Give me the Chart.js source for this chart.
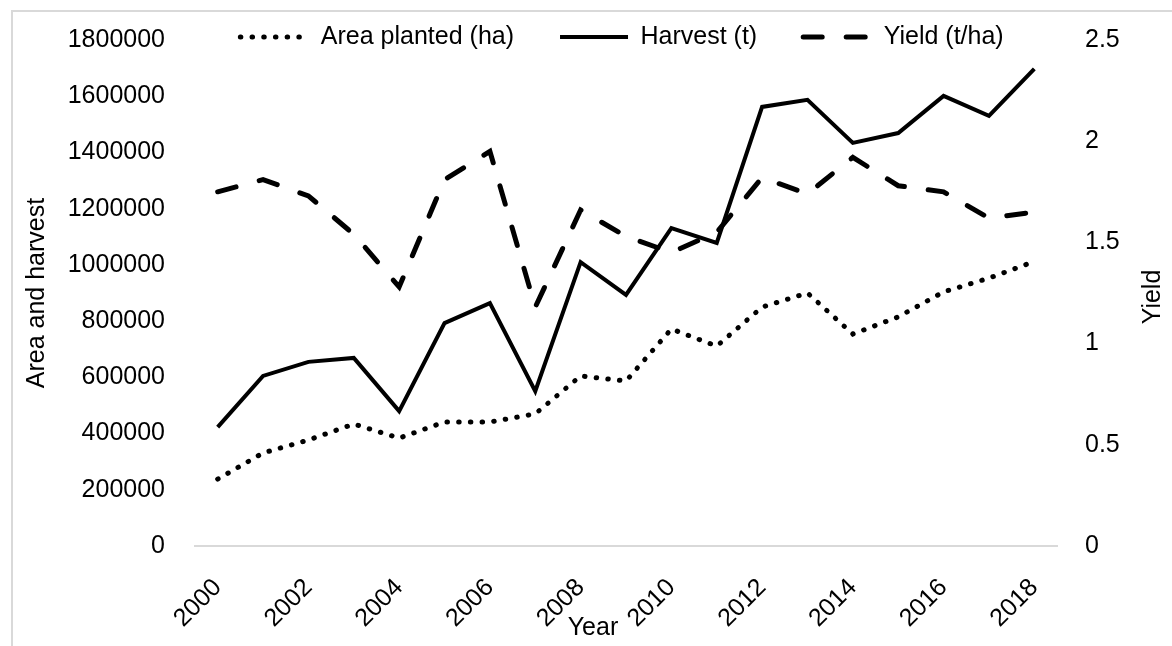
<!DOCTYPE html>
<html>
<head>
<meta charset="utf-8">
<script src="https://cdn.jsdelivr.net/npm/chart.js@4"></script>
<style>
  html, body { margin: 0; padding: 0; background: #fff; }
  #wrap { position: relative; width: 1172px; height: 646px; }
</style>
</head>
<body>
<div id="wrap"><canvas id="chart1"></canvas></div>
<script>
const years = ["2000", "2001", "2002", "2003", "2004", "2005", "2006", "2007", "2008", "2009",
  "2010", "2011", "2012", "2013", "2014", "2015", "2016", "2017", "2018"];

const areaPlanted = [238000, 331000, 377000, 434000, 384000, 441000, 441000, 470000, 605000, 587000,
  772000, 711000, 850000, 900000, 754000, 815000, 904000, 953000, 1012000];

const harvest = [423000, 605000, 655000, 669000, 480000, 793000, 864000, 551000, 1010000, 893000,
  1131000, 1078000, 1562000, 1587000, 1434000, 1469000, 1601000, 1530000, 1697000];

const yieldRate = [1.75, 1.81, 1.73, 1.54, 1.28, 1.81, 1.95, 1.18, 1.66, 1.53,
  1.45, 1.55, 1.82, 1.74, 1.92, 1.78, 1.75, 1.62, 1.65];

const leftMax = 1800000;
const leftStep = 200000;
const rightMax = 2.5;
const rightStep = 0.5;

const fontName = "'Liberation Sans Narrow', 'Arial Narrow', 'Liberation Sans', Arial, sans-serif";
const textFont = { family: fontName, size: 25 };

// legend sits over the top of the plot, so its box is squeezed by hand
const framePlugin = {
  id: "frame",
  afterInit: function (chart) {
    const fit = chart.legend.fit;
    chart.legend.fit = function () {
      fit.call(this);
      this.height = 40;
    };
  },
  afterLayout: function (chart) {
    const lg = chart.legend;
    lg.top = 37 - 46 - 12.5;
    lg.bottom = 80;
    lg.left = 36;
    lg.right = 1208;
  },
  beforeDraw: function (chart) {
    const ctx = chart.ctx;
    ctx.save();
    ctx.strokeStyle = "#d9d9d9";
    ctx.lineWidth = 2;
    ctx.strokeRect(12, 11, 1200, 700);
    ctx.restore();
  },
  afterDraw: function (chart) {
    const ctx = chart.ctx;
    ctx.save();
    ctx.fillStyle = "#000";
    ctx.font = "25px " + fontName;
    ctx.textAlign = "center";
    ctx.textBaseline = "middle";
    ctx.fillText("Year", 593, 628);
    ctx.translate(1153, 297);
    ctx.rotate(-Math.PI / 2);
    ctx.fillText("Yield", 0, 0);
    ctx.restore();
  },
};

const legendLabels = function (chart) {
  const items = Chart.defaults.plugins.legend.labels.generateLabels(chart);
  items.forEach((item, i) => {
    const ds = chart.data.datasets[i];
    item.lineDash = ds.borderDash || [];
    item.lineCap = ds.borderCapStyle || "butt";
    item.lineWidth = ds.borderWidth;
  });
  return items;
};

const fixSide = function (width) {
  return function (scale) {
    scale.width = width;
    scale.paddingTop = 0;
    scale.paddingBottom = 0;
  };
};

const config = {
  type: "line",
  data: {
    labels: years,
    datasets: [
      {
        label: "Area planted (ha)",
        data: areaPlanted,
        yAxisID: "y",
        borderColor: "#000",
        backgroundColor: "#000",
        borderWidth: 5,
        borderDash: [0.5, 11.2],
        borderCapStyle: "round",
        pointRadius: 0,
        tension: 0,
      },
      {
        label: "Harvest (t)",
        data: harvest,
        yAxisID: "y",
        borderColor: "#000",
        backgroundColor: "#000",
        borderWidth: 4,
        pointRadius: 0,
        tension: 0,
      },
      {
        label: "Yield (t/ha)",
        data: yieldRate,
        yAxisID: "y1",
        borderColor: "#000",
        backgroundColor: "#000",
        borderWidth: 5,
        borderDash: [19, 24],
        borderCapStyle: "round",
        pointRadius: 0,
        tension: 0,
      },
    ],
  },
  options: {
    responsive: true,
    maintainAspectRatio: false,
    animation: false,
    devicePixelRatio: 1,
    layout: { padding: 0 },
    plugins: {
      tooltip: { enabled: false },
      legend: {
        position: "top",
        fullSize: true,
        labels: {
          color: "#000",
          font: textFont,
          usePointStyle: true,
          pointStyle: "line",
          pointStyleWidth: 68,
          padding: 46,
          generateLabels: legendLabels,
        },
      },
    },
    scales: {
      x: {
        offset: true,
        grid: { display: false, drawTicks: false },
        border: { display: true, color: "#d9d9d9", width: 2 },
        ticks: {
          color: "#000",
          font: textFont,
          autoSkip: false,
          minRotation: 45,
          maxRotation: 45,
          padding: 27,
          callback: function (value, index) {
            return index % 2 === 0 ? this.getLabelForValue(value) : "";
          },
        },
        afterFit: function (scale) {
          scale.height = 100;
        },
      },
      y: {
        position: "left",
        min: 0,
        max: leftMax,
        grid: { display: false, drawTicks: false },
        border: { display: false },
        ticks: {
          color: "#000",
          font: textFont,
          stepSize: leftStep,
          padding: 30,
          callback: (v) => String(v),
        },
        title: {
          display: true,
          text: "Area and harvest",
          color: "#000",
          font: textFont,
          padding: { top: 22, bottom: 0 },
        },
        afterFit: fixSide(195),
      },
      y1: {
        position: "right",
        min: 0,
        max: rightMax,
        grid: { display: false, drawTicks: false },
        border: { display: false },
        ticks: {
          color: "#000",
          font: textFont,
          stepSize: rightStep,
          padding: 28,
          callback: (v) => String(v),
        },
        afterFit: fixSide(115),
      },
    },
  },
  plugins: [framePlugin],
};

new Chart(document.getElementById("chart1"), config);
</script>
</body>
</html>
